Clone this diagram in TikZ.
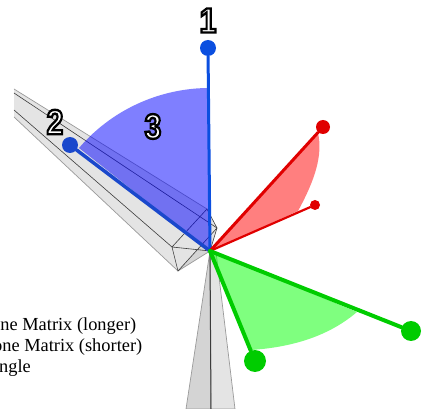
\documentclass[tikz,border=0pt]{standalone}
\usepackage{fontspec}
\setmainfont{Liberation Serif}
\newfontfamily\digitfont{Liberation Sans}[BoldFont=Liberation Sans Bold]
\definecolor{boneface}{HTML}{E4E4E4}
\definecolor{bonedark}{HTML}{D4D4D4}
\definecolor{boneedge}{HTML}{9A9A9A}
\definecolor{boneline}{HTML}{3C3C3C}
\definecolor{bluearm}{HTML}{0B4FE0}
\definecolor{blueback}{HTML}{1A48CC}
\definecolor{redarm}{HTML}{E00000}
\definecolor{greenarm}{HTML}{00CC00}
\tikzset{
  dotmark/.style={circle,inner sep=0pt,fill=#1,draw=none},
  boneedgeline/.style={draw=boneedge,line width=.7pt},
  wire/.style={draw=boneline,line width=.6pt},
  sector/.style={fill=#1,fill opacity=.5,draw=none},
  armline/.style={draw=#1,line cap=round},
  legend/.style={anchor=base east,inner sep=0pt,font=\fontsize{18.4}{21}\selectfont},
  digit/.style={inner sep=0pt,xscale=.86,font=\fontsize{35}{35}\selectfont\digitfont\bfseries}
}
\newcommand{\outlinedigit}[1]{\special{pdf:code q 2 Tr 2.4 w 0 G 1 g}#1\special{pdf:code Q}}
\begin{document}
\begin{tikzpicture}[x=1pt,y=-1pt]
\useasboundingbox (0,0) rectangle (424,409);
\clip (0,0) rectangle (424,409);
\coordinate (o) at (210,251);
\coordinate (boxA) at (172,247);
\coordinate (boxB) at (178,271);
\coordinate (boxD) at (217,228);
\coordinate (boxE) at (207,209);
\coordinate (boxM) at (203,243);
\coordinate (farT) at (14,89);
\coordinate (farL) at (14,117);
\coordinate (farI) at (14,93);
\coordinate (farA) at (14,110);
% long bone
\fill[boneface] (farT) -- (boxE) -- (boxD) -- (o) -- (boxB) -- (farL) -- cycle;
\fill[bonedark] (boxB) -- (boxM) -- (o) -- cycle;
\path[boneedgeline] (farT) -- (boxE);
\path[boneedgeline] (farL) -- (boxB) -- (o);
\path[wire] (farI) -- (boxD);
\path[wire] (farA) -- (boxA);
\path[wire] (boxA) -- (boxE) -- (boxD) -- (boxB) -- (boxA) -- (o);
\path[wire] (boxD) -- (o);
% lower bone
\coordinate (lowL) at (186,409);
\coordinate (lowR) at (235,409);
\coordinate (lowM) at (211,409);
\coordinate (lowT) at (216,252);
\path[fill=bonedark,boneedgeline] (o) -- (lowL) -- (lowM) -- cycle;
\path[fill=boneface,boneedgeline] (o) -- (lowM) -- (lowR) -- (lowT) -- cycle;
\path[draw=boneline,line width=1pt] (o) -- (lowM);
% sectors
\coordinate (blueEnd) at (79,148);
\coordinate (blueTop) at (209,88);
\path[sector=blue] (o) -- (blueTop) .. controls (165,88) and (115,106) .. (blueEnd) -- cycle;
\path[sector=red] (o) -- (318,133) .. controls (323,155) and (315,180) .. (298,211) -- cycle;
\path[sector=green] (o) -- (357,312) .. controls (330,335) and (295,347) .. (251,350) -- cycle;
% arms
\node[dotmark=bluearm,minimum size=16pt] (b1) at (208,48) {};
\node[dotmark=blueback,minimum size=16pt] (b2) at (70,145) {};
\node[dotmark=redarm,minimum size=14pt] (r1) at (323,127) {};
\node[dotmark=redarm,minimum size=10pt] (r2) at (315,205) {};
\node[dotmark=greenarm,minimum size=20pt] (g1) at (411,331) {};
\node[dotmark=greenarm,minimum size=22pt] (g2) at (255,361) {};
\draw[armline=bluearm,line width=3pt] (o) -- (b1);
\draw[armline=blueback,line width=3.5pt] (o) -- (b2);
\draw[armline=redarm,line width=3pt] (o) -- (r1);
\draw[armline=redarm,line width=2.2pt] (o) -- (r2);
\draw[armline=greenarm,line width=4pt] (o) -- (g1);
\draw[armline=greenarm,line width=4pt] (o) -- (g2);
% numbers
\node[digit] (n1) at (208,20.5) {\outlinedigit{1}};
\node[digit] (n2) at (55,122) {\outlinedigit{2}};
\node[digit] (n3) at (153,126.5) {\outlinedigit{3}};
% legend
\node[legend] (t1) at (136.5,331) {ne Matrix (longer)};
\node[legend] (t2) at (142.5,352) {one Matrix (shorter)};
\node[legend] (t3) at (31,373) {ngle};
\end{tikzpicture}
\end{document}
